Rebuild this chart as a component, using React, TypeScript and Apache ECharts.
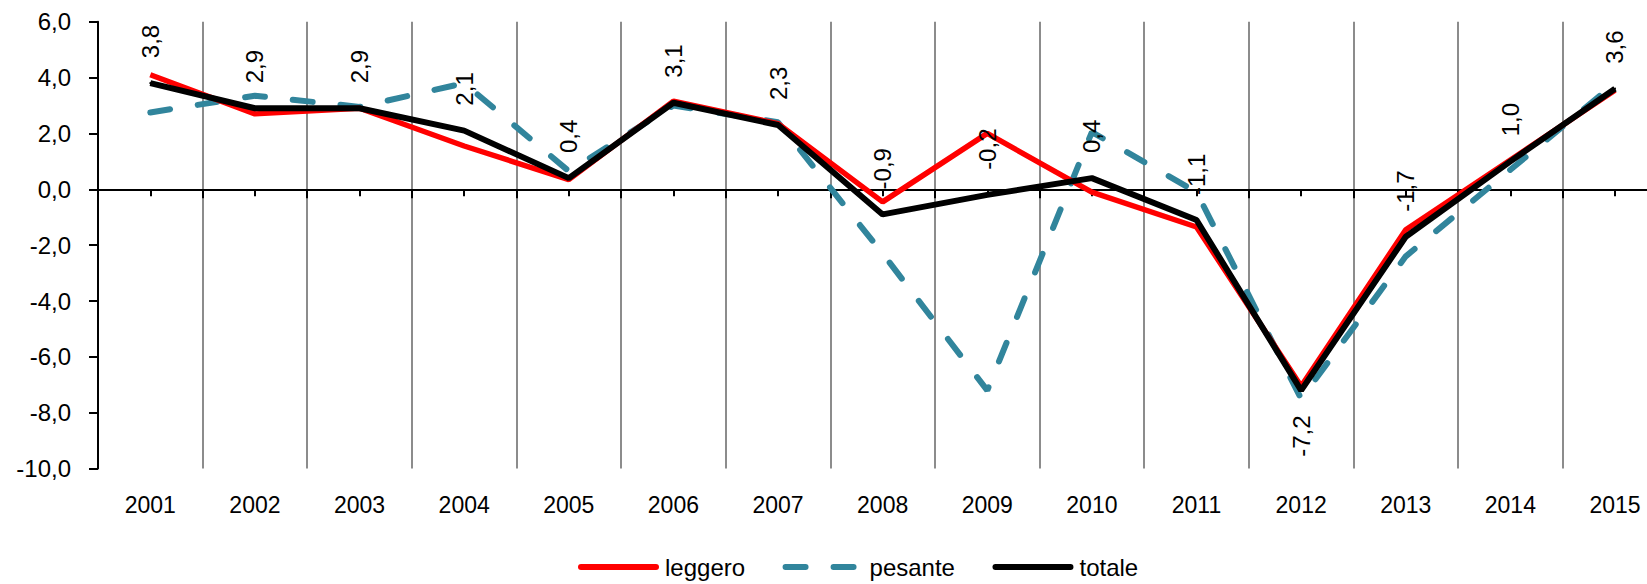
import React, { useEffect, useRef } from "react";
import * as echarts from "echarts";

const years = ["2001", "2002", "2003", "2004", "2005", "2006", "2007", "2008", "2009", "2010", "2011", "2012", "2013", "2014", "2015"];
const leggero = [4.1, 2.7, 2.9, 1.55, 0.35, 3.15, 2.35, -0.45, 2.0, -0.1, -1.35, -7.05, -1.45, 1.05, 3.55];
const pesante = [2.75, 3.35, 2.95, 3.8, 0.65, 3.0, 2.4, -2.3, -7.2, 2.05, -0.1, -7.5, -2.4, 0.7, 3.8];
const totale = [3.8, 2.9, 2.9, 2.1, 0.4, 3.1, 2.3, -0.9, -0.2, 0.4, -1.1, -7.2, -1.7, 1.0, 3.6];
const belowLabelYears = ["2012"];

const FONT = "'Liberation Sans Narrow', 'Arial Narrow', 'Liberation Sans', Arial, sans-serif";
const fmt = (v: number) => v.toFixed(1).replace(".", ",");

export default function App() {
  const ref = useRef<HTMLDivElement>(null);
  useEffect(() => {
    if (!ref.current) return;
    const chart = echarts.init(ref.current, undefined, { renderer: "svg" });
    const baseX = { type: "category", data: years, position: "bottom", gridIndex: 0 };
    chart.setOption({
      animation: false,
      backgroundColor: "#ffffff",
      textStyle: { fontFamily: FONT },
      grid: { left: 98, right: -20.3, top: 21.7, bottom: 115.4, containLabel: false, outerBoundsMode: "none" },
      legend: {
        left: 578,
        top: 555,
        padding: 0,
        itemWidth: 75,
        itemHeight: 14,
        itemGap: 37.5,
        itemStyle: { opacity: 0 },
        lineStyle: { width: 6, cap: "round" },
        textStyle: { fontSize: 24, lineHeight: 24, color: "#000", fontFamily: FONT, padding: [0, 0, 0, 4] },
        data: ["leggero", "pesante", "totale"],
      },
      xAxis: [
        {
          ...baseX,
          axisLine: { show: false, onZero: false },
          axisTick: { show: false },
          axisLabel: { margin: 25, fontSize: 23, color: "#000", fontFamily: FONT, interval: 0 },
          splitLine: { show: true, lineStyle: { color: "#8c8c8c", width: 2 } },
        },
        {
          ...baseX,
          axisLine: { show: true, onZero: true, onZeroAxisIndex: 0, lineStyle: { color: "#000", width: 2 } },
          axisTick: { show: true, length: 9, lineStyle: { color: "#000", width: 2 } },
          axisLabel: { show: false },
          splitLine: { show: false },
        },
        {
          ...baseX,
          axisLine: { show: false, onZero: true, onZeroAxisIndex: 0 },
          axisTick: { show: true, alignWithLabel: true, length: 7, lineStyle: { color: "#000", width: 2 } },
          axisLabel: { show: false },
          splitLine: { show: false },
        },
      ],
      yAxis: {
        type: "value",
        min: -10,
        max: 6,
        interval: 2,
        axisLine: { show: true, lineStyle: { color: "#000", width: 2 } },
        axisTick: { show: true, length: 9, lineStyle: { color: "#000", width: 2 } },
        axisLabel: { margin: 27, fontSize: 24, color: "#000", fontFamily: FONT, formatter: (v: number) => fmt(v) },
        splitLine: { show: false },
      },
      series: [
        {
          name: "leggero",
          type: "line",
          data: leggero,
          symbol: "none",
          color: "#ff0000",
          lineStyle: { color: "#ff0000", width: 5.5 },
          z: 2,
        },
        {
          name: "pesante",
          type: "line",
          data: pesante,
          symbol: "none",
          color: "#31859c",
          lineStyle: { color: "#31859c", width: 6, type: [20, 28], cap: "round" },
          z: 1,
        },
        {
          name: "totale",
          type: "line",
          data: totale.map((v, i) =>
            belowLabelYears.includes(years[i])
              ? { value: v, label: { position: "bottom", align: "right" } }
              : v
          ),
          symbol: "circle",
          symbolSize: 2,
          showSymbol: true,
          showAllSymbol: true,
          color: "#000000",
          itemStyle: { color: "#000000" },
          lineStyle: { color: "#000000", width: 6 },
          z: 3,
          label: {
            show: true,
            position: "top",
            distance: 24,
            rotate: 90,
            align: "left",
            verticalAlign: "middle",
            fontSize: 24,
            color: "#000",
            fontFamily: FONT,
            formatter: (p: any) => fmt(p.value),
          },
        },
      ],
    });
    return () => chart.dispose();
  }, []);
  return <div ref={ref} style={{ position: "fixed", left: 0, top: 0, width: 1647, height: 584 }} />;
}
